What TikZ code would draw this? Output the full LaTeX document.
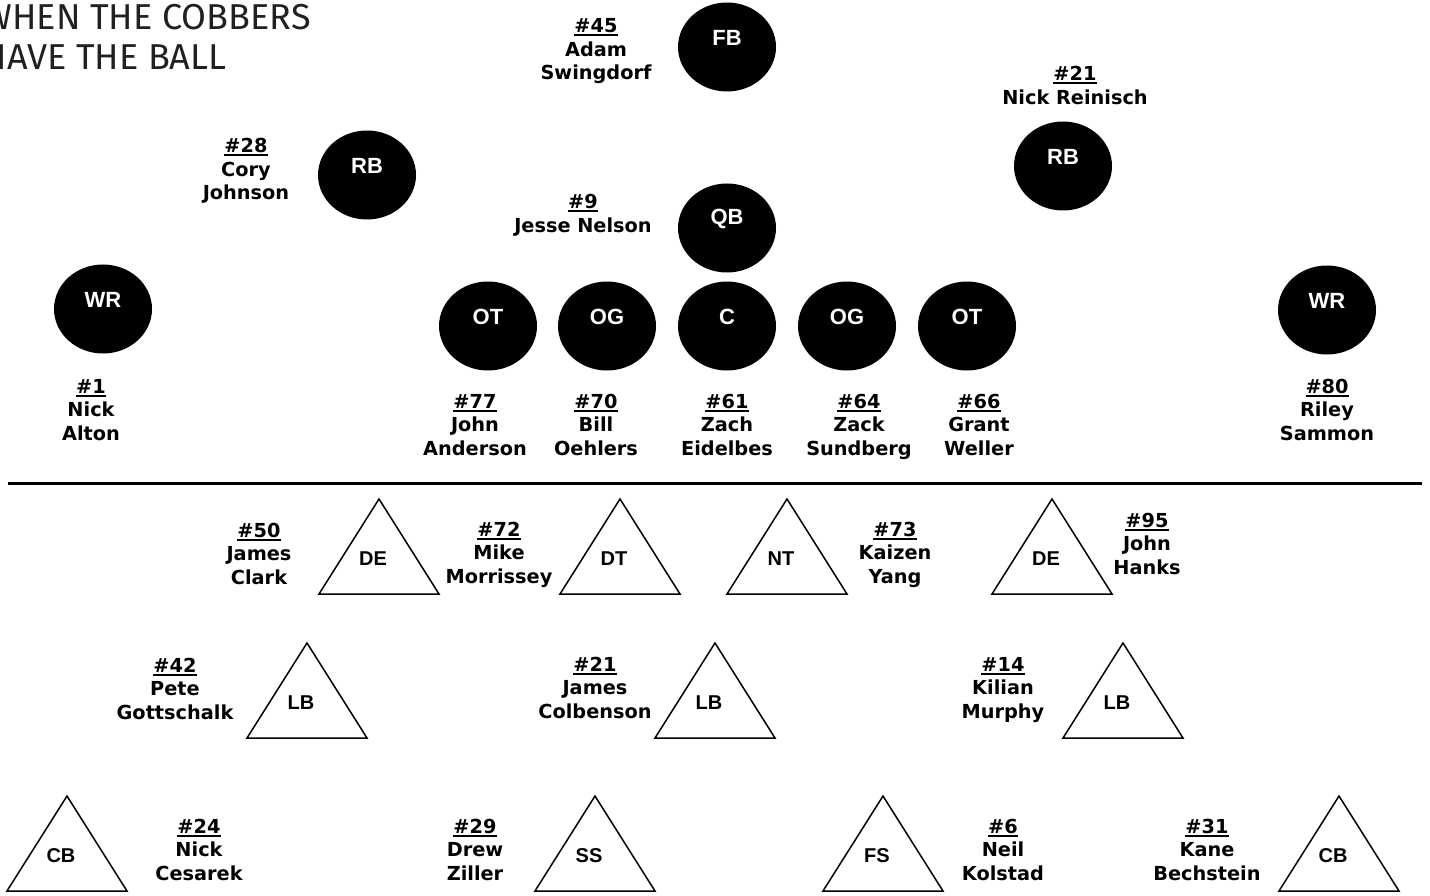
\documentclass[tikz,border=0pt]{standalone}
\usepackage{fontspec}
\setmainfont{DejaVu Sans}
\newfontfamily\vfont{DejaVu Sans}
\newfontfamily\afont{Liberation Sans}
\newfontfamily\tfont{Fira Sans}
\usetikzlibrary{shapes.geometric}
\definecolor{titlegray}{HTML}{231F20}
\newcommand\numul[1]{\setbox0\hbox{#1}\rlap{\rule[-3.5pt]{\wd0}{2pt}}\box0}
\tikzset{
  nm/.style={align=center, font=\vfont\bfseries\fontsize{19.3}{23.5}\selectfont, inner sep=0pt, anchor=base},
  ttl/.style={font=\tfont\fontsize{36}{40}\selectfont, text=titlegray, inner sep=0pt},
  plbl/.style={font=\afont\bfseries\fontsize{22}{24}\selectfont, text=white, inner sep=0pt, yshift=9pt},
  player/.style={ellipse, fill=black, minimum width=98pt, minimum height=89pt, inner sep=0pt},
  tlbl/.style={font=\afont\bfseries\fontsize{20}{22}\selectfont, inner sep=0pt},
  defender/.pic={\draw[line width=1.5pt, line join=miter] (-60,95) -- (0,0) -- (60,95) -- cycle;
                 \node[tlbl] (-lbl) at (-6,60) {#1};}
}
\begin{document}
\begin{tikzpicture}[x=1pt,y=-1pt]
\useasboundingbox (0,0) rectangle (1430,896);
% title
\node[ttl, anchor=base east] (t1) at (311,30) {WHEN THE COBBERS};
\node[ttl, anchor=base west] (t2) at ([yshift=-40pt]t1.base west) {HAVE THE BALL};
% line of scrimmage
\coordinate (losl) at (8,483);
\coordinate (losr) at (1422,483);
\draw[line width=3pt] (losl) -- (losr);
% offense
\node[player, label={[plbl]center:FB}] (fb) at (727,47) {};
\node[player, label={[plbl]center:RB}] (rbl) at (367,175) {};
\node[player, label={[plbl]center:QB}] (qb) at (727,228) {};
\node[player, label={[plbl]center:RB}] (rbr) at (1063,166) {};
\node[player, label={[plbl]center:WR}] (wrl) at (103,309) {};
\node[player, label={[plbl]center:OT}] (otl) at (488,326) {};
\node[player, label={[plbl]center:OG}] (ogl) at (607,326) {};
\node[player, label={[plbl]center:C}] (c) at (727,326) {};
\node[player, label={[plbl]center:OG}] (ogr) at (847,326) {};
\node[player, label={[plbl]center:OT}] (otr) at (967,326) {};
\node[player, label={[plbl]center:WR}] (wrr) at (1327,310) {};
% offense names (anchor = baseline of last line)
\node[nm] (n45) at (596,80) {\numul{\#45}\\Adam\\Swingdorf};
\node[nm] (n21a) at (1075,104.5) {\numul{\#21}\\Nick Reinisch};
\node[nm] (n28) at (246,200) {\numul{\#28}\\Cory\\Johnson};
\node[nm] (n9) at (583,232.5) {\numul{\#9}\\Jesse Nelson};
\node[nm] (n1) at (91,440) {\numul{\#1}\\Nick\\Alton};
\node[nm] (n77) at (475,455) {\numul{\#77}\\John\\Anderson};
\node[nm] (n70) at (596,455) {\numul{\#70}\\Bill\\Oehlers};
\node[nm] (n61) at (727,455) {\numul{\#61}\\Zach\\Eidelbes};
\node[nm] (n64) at (859,455) {\numul{\#64}\\Zack\\Sundberg};
\node[nm] (n66) at (979,455) {\numul{\#66}\\Grant\\Weller};
\node[nm] (n80) at (1327,440) {\numul{\#80}\\Riley\\Sammon};
% defense
\pic (de1) at (379,499) {defender=DE};
\pic (dt) at (620,499) {defender=DT};
\pic (nt) at (787,499) {defender=NT};
\pic (de2) at (1052,499) {defender=DE};
\pic (lb1) at (307,643) {defender=LB};
\pic (lb2) at (715,643) {defender=LB};
\pic (lb3) at (1123,643) {defender=LB};
\pic (cb1) at (67,796) {defender=CB};
\pic (ss) at (595,796) {defender=SS};
\pic (fs) at (883,796) {defender=FS};
\pic (cb2) at (1339,796) {defender=CB};
% defense names
\node[nm] (n50) at (259,584) {\numul{\#50}\\James\\Clark};
\node[nm] (n72) at (499,583) {\numul{\#72}\\Mike\\Morrissey};
\node[nm] (n73) at (895,583) {\numul{\#73}\\Kaizen\\Yang};
\node[nm] (n95) at (1147,574) {\numul{\#95}\\John\\Hanks};
\node[nm] (n42) at (175,719) {\numul{\#42}\\Pete\\Gottschalk};
\node[nm] (n21b) at (595,718) {\numul{\#21}\\James\\Colbenson};
\node[nm] (n14) at (1003,718) {\numul{\#14}\\Kilian\\Murphy};
\node[nm] (n24) at (199,880) {\numul{\#24}\\Nick\\Cesarek};
\node[nm] (n29) at (475,880) {\numul{\#29}\\Drew\\Ziller};
\node[nm] (n6) at (1003,880) {\numul{\#6}\\Neil\\Kolstad};
\node[nm] (n31) at (1207,880) {\numul{\#31}\\Kane\\Bechstein};
\end{tikzpicture}
\end{document}
